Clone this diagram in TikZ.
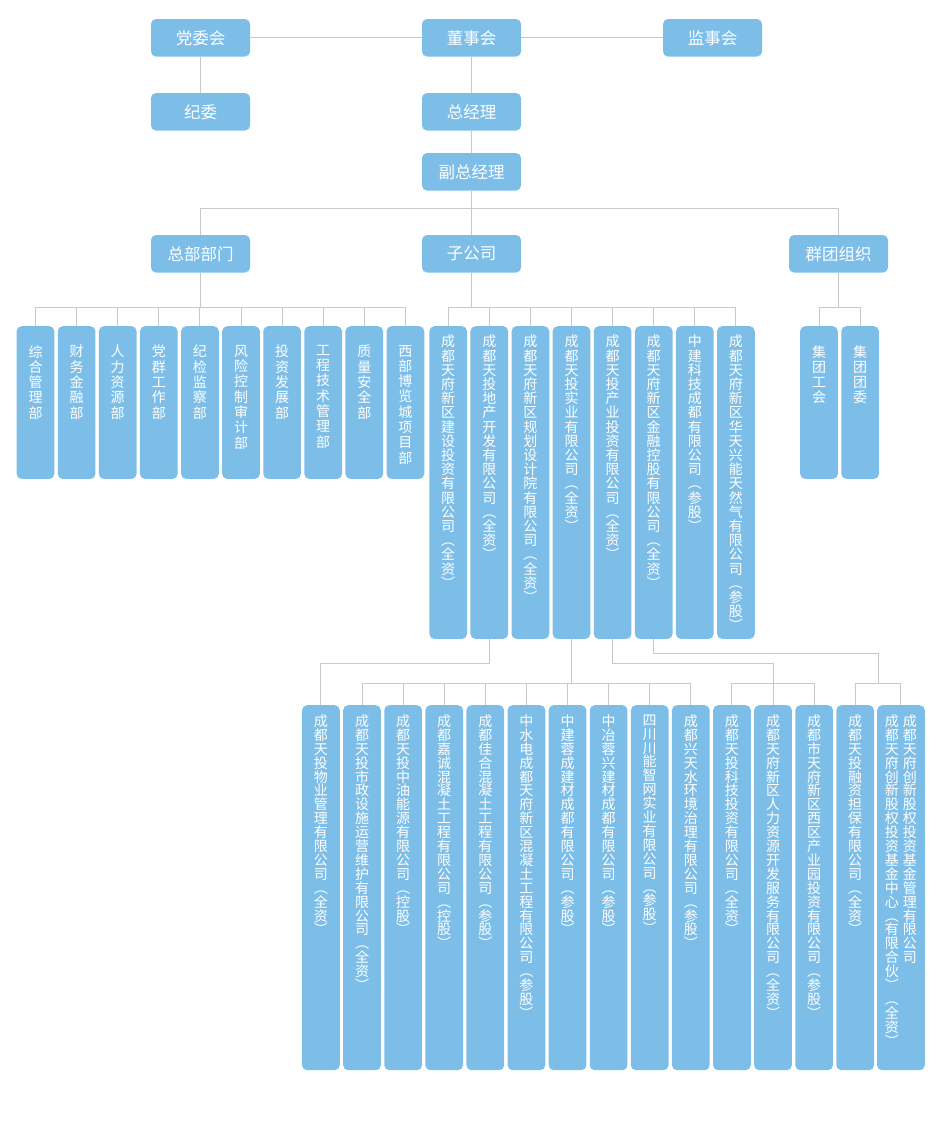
\documentclass[tikz,border=0pt]{standalone}
\usepackage{fontspec}
\setmainfont{Noto Sans CJK SC}
\usetikzlibrary{calc}
\definecolor{BoxBlue}{RGB}{125,190,233}
\definecolor{LineGray}{RGB}{200,200,200}
% 竖排文字：每个字一行
\newcommand\vchars[1]{\vcfirst#1\relax}
\def\vcfirst#1{#1\vcnext}
\def\vcnext#1{\ifx#1\relax\else\\#1\expandafter\vcnext\fi}
% #1 框高, #2 上边距, #3 行距, #4 文字
\newcommand\coltext[4]{\parbox[c][#1pt][t]{15pt}{\fontsize{14}{#3}\selectfont\lineskiplimit=-20pt\centering\vskip#2pt\relax\expandafter\vchars\expandafter{#4}\par}}

\begin{document}
\begin{tikzpicture}[x=1pt,y=-1pt,
  topbox/.style={fill=BoxBlue,rounded corners=5pt,minimum width=99pt,minimum height=37.5pt,inner sep=0pt,text=white,font=\fontsize{16.5}{16.5}\selectfont},
  colbox/.style={fill=BoxBlue,rounded corners=5pt,minimum width=37.7pt,inner sep=0pt,anchor=north,text=white},
  link/.style={draw=LineGray,line width=1pt}]
\useasboundingbox (0,0) rectangle (945,1126);
% 顶层
\node[topbox] (dwh) at (200.5,37.8) {党委会};
\node[topbox] (dsh) at (471.5,37.8) {董事会};
\node[topbox] (jsh) at (712.5,37.8) {监事会};
\node[topbox] (jw) at (200.5,111.8) {纪委};
\node[topbox] (zjl) at (471.5,111.8) {总经理};
\node[topbox] (fzjl) at (471.5,171.8) {副总经理};
\node[topbox] (zbbm) at (200.5,253.8) {总部部门};
\node[topbox] (zgs) at (471.5,253.8) {子公司};
\node[topbox] (qtzz) at (838.5,253.8) {群团组织};
\draw[link] (dwh.east) -- (dsh.west);
\draw[link] (dsh.east) -- (jsh.west);
\draw[link] (dwh.south) -- (jw.north);
\draw[link] (dsh.south) -- (zjl.north);
\draw[link] (zjl.south) -- (fzjl.north);
\draw[link] (fzjl.south) -- (zgs.north);
\draw[link] (fzjl.south) |- ($(zbbm.north)+(0,-26)$) -- (zbbm.north);
\draw[link] (fzjl.south) |- ($(qtzz.north)+(0,-26)$) -- (qtzz.north);
% 总部部门
\foreach \t [count=\i] in {综合管理部,财务金融部,人力资源部,党群工作部,纪检监察部,风险控制审计部,投资发展部,工程技术管理部,质量安全部,西部博览城项目部}{
  \node[colbox] (d\i) at ({35.5+41.1*(\i-1)},326) {\coltext{152.7}{19}{15.3}{\t}};
  \draw[link] (zbbm.south) |- ($(d\i.north)+(0,-19)$) -- (d\i.north);
}
% 子公司
\foreach \t [count=\i] in {成都天府新区建设投资有限公司︵全资︶,成都天投地产开发有限公司︵全资︶,成都天府新区规划设计院有限公司︵全资︶,成都天投实业有限公司︵全资︶,成都天投产业投资有限公司︵全资︶,成都天府新区金融控股有限公司︵全资︶,中建科技成都有限公司︵参股︶,成都天府新区华天兴能天然气有限公司︵参股︶}{
  \node[colbox] (s\i) at ({448.2+41.1*(\i-1)},326) {\coltext{312.7}{9}{14.2}{\t}};
  \draw[link] (zgs.south) |- ($(s\i.north)+(0,-19)$) -- (s\i.north);
}
% 群团组织
\foreach \t [count=\i] in {集团工会,集团团委}{
  \node[colbox] (q\i) at ({819+41.1*(\i-1)},326) {\coltext{152.7}{19}{15.3}{\t}};
  \draw[link] (qtzz.south) |- ($(q\i.north)+(0,-19)$) -- (q\i.north);
}
% 下属公司
\foreach \t [count=\i] in {成都天投物业管理有限公司︵全资︶,成都天投市政设施运营维护有限公司︵全资︶,成都天投中油能源有限公司︵控股︶,成都嘉诚混凝土工程有限公司︵控股︶,成都佳合混凝土工程有限公司︵参股︶,中水电成都天府新区混凝土工程有限公司︵参股︶,中建蓉成建材成都有限公司︵参股︶,中冶蓉兴建材成都有限公司︵参股︶,四川川能智网实业有限公司︵参股︶,成都兴天水环境治理有限公司︵参股︶,成都天投科技投资有限公司︵全资︶,成都天府新区人力资源开发服务有限公司︵全资︶,成都市天府新区西区产业园投资有限公司︵参股︶,成都天投融资担保有限公司︵全资︶}
  \node[colbox] (b\i) at ({320.9+41.1*(\i-1)},705) {\coltext{365}{9.5}{13.9}{\t}};
\node[colbox,minimum width=47.7pt] (b15) at (900.9,705) {\coltext{365}{9.5}{13.9}{成都天府创新股权投资基金中心︵有限合伙︶︵全资︶}\hspace{3pt}\coltext{365}{9.5}{13.9}{成都天府创新股权投资基金管理有限公司}};
\draw[link] (s2.south) |- ($(b1.north)+(0,-42)$) -- (b1.north);
\foreach \i in {2,...,10}
  \draw[link] (s4.south) |- ($(b\i.north)+(0,-22)$) -- (b\i.north);
\coordinate (cy) at ($(b12.north)+(0,-22)$);
\draw[link] (s5.south) |- ($(cy)+(0,-20)$) -- (cy);
\foreach \i in {11,12,13}
  \draw[link] (cy) -| (b\i.north);
\coordinate (jr) at ($(b14.north)!.5!(b15.north)+(0,-22)$);
\draw[link] (s6.south) |- ($(jr)+(0,-30)$) -- (jr);
\foreach \i in {14,15}
  \draw[link] (jr) -| (b\i.north);
\end{tikzpicture}
\end{document}
